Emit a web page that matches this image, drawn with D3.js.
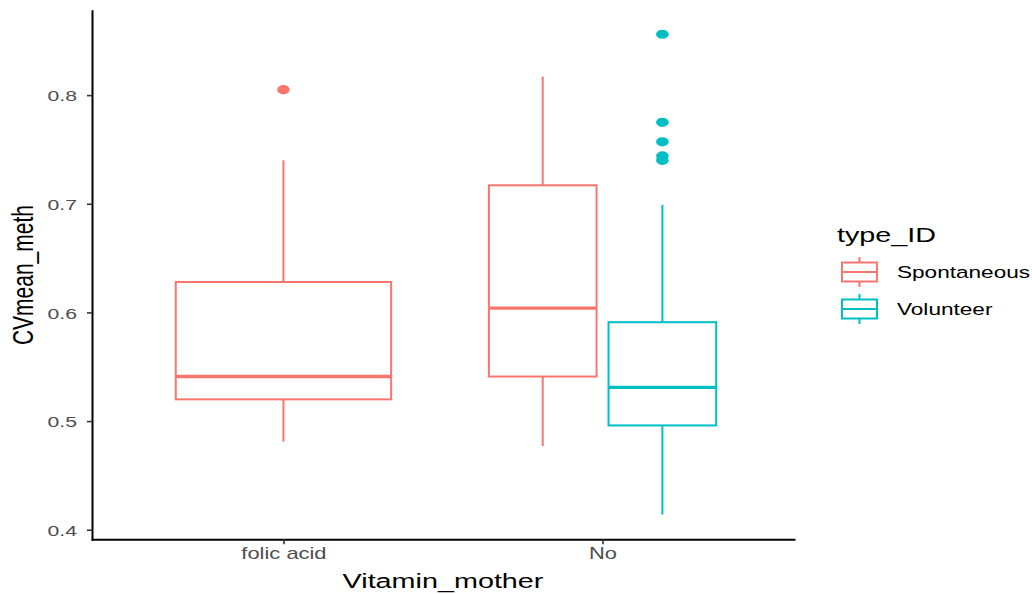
<!DOCTYPE html>
<html><head><meta charset="utf-8">
<script src="https://cdn.jsdelivr.net/npm/d3@7"></script>
<style>body{margin:0;background:#fff} text{font-family:"Liberation Sans",Arial,Helvetica,sans-serif}</style>
</head><body><svg id="c" width="1032" height="594"></svg>
<script>
// ---- data ----
const categories = ["folic acid", "No"];
const groups = ["Spontaneous", "Volunteer"];
const boxCategory = ["folic acid", "No", "No"];
const boxGroup = ["Spontaneous", "Spontaneous", "Volunteer"];
const whiskerLow = [0.481, 0.477, 0.414];
const q1 = [0.520, 0.541, 0.496];
const median = [0.541, 0.604, 0.531];
const q3 = [0.628, 0.717, 0.591];
const whiskerHigh = [0.740, 0.817, 0.699];
const outlierBox = [0, 2, 2, 2, 2, 2];
const outlierValue = [0.805, 0.856, 0.775, 0.757, 0.744, 0.740];
const yTicks = [0.4, 0.5, 0.6, 0.7, 0.8];
const colors = ["#F8766D", "#00BFC4"];

// ---- layout ----
const SX = 1.37; // horizontal stretch of the reference picture
const svg = d3.select("#c");
const x = d3.scaleLinear().domain([0.4, categories.length + 0.6]).range([92, 794]);
const y = d3.scaleLinear().domain([0.3912, 0.8776]).range([539.3, 10.8]);
const color = d3.scaleOrdinal().domain(groups).range(colors);

const boxes = boxCategory.map((c, i) => {
  const inCat = boxCategory.map((cc, j) => cc === c ? j : -1).filter(j => j >= 0);
  const n = inCat.length, k = inCat.indexOf(i);
  const ci = categories.indexOf(c) + 1;
  const slot = 0.75 / n;
  const center = ci - 0.375 + slot * (k + 0.5);
  const w = slot * 0.9;
  return {i, center, w, g: boxGroup[i], lo: whiskerLow[i], q1: q1[i], med: median[i], q3: q3[i], hi: whiskerHigh[i]};
});

const plot = svg.append("g");
boxes.forEach(b => {
  const col = color(b.g);
  const gg = plot.append("g").attr("stroke", col).attr("fill", "none");
  const cx = x(b.center), x0 = x(b.center - b.w / 2), x1 = x(b.center + b.w / 2);
  gg.append("line").attr("x1", cx).attr("x2", cx).attr("y1", y(b.hi)).attr("y2", y(b.q3)).attr("stroke-width", 2);
  gg.append("line").attr("x1", cx).attr("x2", cx).attr("y1", y(b.q1)).attr("y2", y(b.lo)).attr("stroke-width", 2);
  gg.append("rect").attr("x", x0).attr("y", y(b.q3)).attr("width", x1 - x0).attr("height", y(b.q1) - y(b.q3))
    .attr("fill", "#fff").attr("stroke-width", 2);
  gg.append("line").attr("x1", x0).attr("x2", x1).attr("y1", y(b.med)).attr("y2", y(b.med)).attr("stroke-width", 3.4);
});
outlierValue.forEach((v, j) => {
  const b = boxes[outlierBox[j]];
  plot.append("ellipse").attr("cx", x(b.center)).attr("cy", y(v)).attr("rx", 6.3).attr("ry", 4.6)
    .attr("fill", color(b.g));
});

// ---- axes ----
const yAxis = svg.append("g").attr("transform", `translate(${x.range()[0]},0)`)
  .call(d3.axisLeft(y).tickValues(yTicks).tickSize(5).tickSizeOuter(0).tickFormat(d3.format(".1f")));
yAxis.select(".domain").attr("stroke", "#000").attr("stroke-width", 2).attr("stroke-linecap", "square");
yAxis.selectAll(".tick line").attr("stroke", "#333").attr("stroke-width", 1.6);
yAxis.selectAll(".tick text").attr("fill", "#4d4d4d").style("font-size", "15.5px")
  .attr("x", -15 / SX).attr("dy", "0.36em").attr("transform", `scale(${SX},1)`);

const xAxis = svg.append("g").attr("transform", `translate(0,${y.range()[0]})`)
  .call(d3.axisBottom(x).tickValues(categories.map((c, i) => i + 1)).tickSize(5).tickSizeOuter(0)
    .tickFormat((d) => categories[d - 1]));
xAxis.select(".domain").attr("stroke", "#000").attr("stroke-width", 2).attr("stroke-linecap", "square");
xAxis.selectAll(".tick line").attr("stroke", "#333").attr("stroke-width", 1.6);
xAxis.selectAll(".tick text").attr("fill", "#4d4d4d").style("font-size", "16px")
  .attr("y", 0).attr("dy", "20px").attr("transform", `scale(${SX},1)`);

// titles
svg.append("text").attr("transform", `translate(${(x.range()[0] + x.range()[1]) / 2},588) scale(${SX},1)`)
  .attr("text-anchor", "middle").style("font-size", "21px").attr("fill", "#000").text("Vitamin_mother");
svg.append("text").attr("transform", `translate(33,${(y.range()[0] + y.range()[1]) / 2}) scale(${SX},1) rotate(-90)`)
  .attr("text-anchor", "middle").style("font-size", "21px").attr("fill", "#000").text("CVmean_meth");

// ---- legend ----
const leg = svg.append("g");
leg.append("text").attr("transform", `translate(837,242) scale(${SX},1)`).style("font-size", "21px").attr("fill", "#000").text("type_ID");
groups.forEach((g, i) => {
  const cy = 272 + i * 37;
  const col = color(g);
  const k = leg.append("g").attr("stroke", col).attr("fill", "none").attr("stroke-width", 2);
  k.append("line").attr("x1", 859.5).attr("x2", 859.5).attr("y1", cy - 15).attr("y2", cy - 9.5);
  k.append("line").attr("x1", 859.5).attr("x2", 859.5).attr("y1", cy + 9.5).attr("y2", cy + 15);
  k.append("rect").attr("x", 842).attr("y", cy - 9.5).attr("width", 35).attr("height", 19).attr("fill", "#fff");
  k.append("line").attr("x1", 842).attr("x2", 877).attr("y1", cy).attr("y2", cy);
  leg.append("text").attr("transform", `translate(897,${cy + 6}) scale(${SX},1)`).style("font-size", "16.5px")
    .attr("fill", "#000").text(g);
});
</script></body></html>
